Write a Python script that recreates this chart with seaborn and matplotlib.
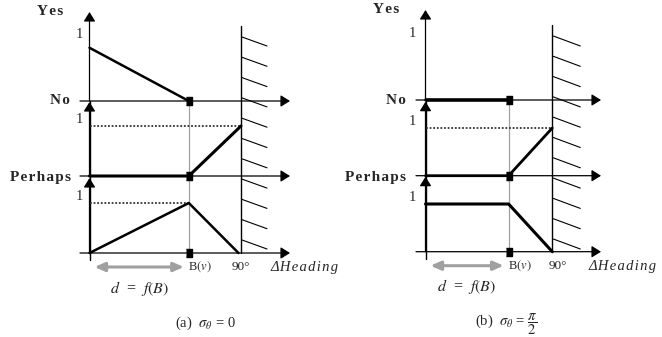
import numpy as np
import pandas as pd
import seaborn as sns
import matplotlib.pyplot as plt

sns.set_theme(style='white')
plt.rcParams['font.family'] = ['Liberation Serif', 'DejaVu Serif']
plt.rcParams['mathtext.fontset'] = 'stix'

# heading values in degrees
b_heading = 59
wall_heading = 90

# panel (a): sigma_theta = 0, membership curves (top, middle, bottom graph)
a_top_x = [0, b_heading]
a_top_y = [0.88, 0]
a_mid_x = [0, b_heading, 90]
a_mid_y = [0, 0, 1]
a_bot_x = [0, b_heading, 88.5]
a_bot_y = [0, 1, 0]

# panel (b): sigma_theta = pi/2
b_top_x = [0, b_heading]
b_top_y = [0, 0]
b_mid_x = [0, b_heading, 90]
b_mid_y = [0, 0, 1]
b_bot_x = [0, b_heading, 90]
b_bot_y = [1, 1, 0]

axis_labels = ['Yes', 'No', 'Perhaps']
captions = [r'(a)  $\sigma_\theta$ = 0', r'(b)  $\sigma_\theta$ = $\dfrac{\pi}{2}$']

# pixel layout of each panel (origin = y-axis / bottom baseline)
layouts = [
    dict(x0=0, x1=330, ox=89.5, oy=253, ppd=151.5 / 90, ppu=50, top_ppu=60.5,
         base_px=[152, 77, 0], tip_px=[89, 74, 75], axis_end=200.5,
         label_dx=[-26.5, -19.5, -18.5], one_dx=-6.5, hatch_len=26, hatch_drop=9,
         heading_dx=29, deg_dx=0, caption_dx=115.5, caption_dy=-70,
         curves=[(a_top_x, a_top_y), (a_mid_x, a_mid_y), (a_bot_x, a_bot_y)],
         thick=[1.8, 2.2, 1.8]),
    dict(x0=330, x1=662, ox=425.5, oy=251.7, ppd=126.8 / 90, ppu=47.7, top_ppu=60.5,
         base_px=[151.7, 76, 0], tip_px=[90, 74, 75], axis_end=175.5,
         label_dx=[-26, -20, -19.5], one_dx=-9.5, hatch_len=28, hatch_drop=10,
         heading_dx=36, deg_dx=6, caption_dx=80.5, caption_dy=-73,
         curves=[(b_top_x, b_top_y), (b_mid_x, b_mid_y), (b_bot_x, b_bot_y)],
         thick=[2.6, 2.0, 2.2]),
]

fig = plt.figure(figsize=(6.62, 3.37), dpi=100)
pt = 0.72  # points per pixel at 100 dpi
square = [(-0.31, -0.5), (0.31, -0.5), (0.31, 0.5), (-0.31, 0.5)]

for i, L in enumerate(layouts):
    ax = fig.add_axes([L['x0'] / 662, 0, (L['x1'] - L['x0']) / 662, 1])
    ax.set_xlim((L['x0'] - L['ox']) / L['ppd'], (L['x1'] - L['ox']) / L['ppd'])
    ax.set_ylim((L['oy'] - 337) / L['ppu'], L['oy'] / L['ppu'])
    ax.axis('off')
    dx = lambda p: p / L['ppd']
    dy = lambda p: p / L['ppu']
    arrow = dict(arrowstyle='-|>,head_length=0.4,head_width=0.25', color='black',
                 lw=0.9, mutation_scale=14, shrinkA=0, shrinkB=0)

    bases = [dy(p) for p in L['base_px']]
    top_base = bases[0]

    # grey guide at B and the 90 degree wall with hatching
    ax.plot([b_heading, b_heading], [0, top_base], color='#a0a0a0', lw=0.9, zorder=1)
    wall_top = top_base + dy(75)
    ax.plot([wall_heading, wall_heading], [0, wall_top], color='black', lw=1.0, zorder=2)
    for k in range(11):
        y0 = wall_top - dy(11 + 20.3 * k)
        ax.plot([wall_heading + dx(1), wall_heading + dx(L['hatch_len'])],
                [y0, y0 - dy(L['hatch_drop'])], color='black', lw=0.8, zorder=2)

    # shared y-axis line
    ax.plot([0, 0], [-dy(7), top_base], color='black', lw=1.0, zorder=2)

    for g in range(3):
        base = bases[g]
        scale = (L['top_ppu'] if g == 0 else L['ppu']) / L['ppu']
        # axes with arrows
        ax.annotate('', xy=(dx(L['axis_end']), base), xytext=(-dx(9.5), base), arrowprops=arrow)
        ax.annotate('', xy=(0, base + dy(L['tip_px'][g])), xytext=(0, base), arrowprops=arrow)
        # "1" label
        ax.annotate('1', xy=(0, base + scale), xytext=(L['one_dx'] * pt, 6 * pt),
                    textcoords='offset points', ha='right', va='center', fontsize=10.5)
        # membership curve
        cx, cy = L['curves'][g]
        df = pd.DataFrame({'x': cx, 'y': [base + v * scale for v in cy]})
        # dotted reference at level 1
        if max(cy) == 1 and cy.index(1) > 0:
            ax.plot([0, cx[cy.index(1)]], [base + scale] * 2, color='#333333',
                    lw=1.3, ls=(0, (1, 1)), zorder=2)
        sns.lineplot(data=df, x='x', y='y', ax=ax, color='black', lw=L['thick'][g],
                     estimator=None, sort=False, zorder=4)
        # B marker
        ax.plot([b_heading], [base], marker=square, ms=6, color='black', zorder=5)

    # Yes / No / Perhaps labels
    label_y = [top_base + dy(L['tip_px'][0]), top_base, bases[1]]
    label_off = [0, 0, -2]
    for lab, yv, ldx, lo in zip(axis_labels, label_y, L['label_dx'], label_off):
        ax.annotate('\u200a'.join(lab), xy=(0, yv), xytext=(ldx * pt, lo * pt),
                    textcoords='offset points', ha='right', va='center',
                    fontsize=11, fontweight='bold')

    # bottom annotations
    ax.annotate(r'B$\mathit{(v)}$', xy=(b_heading, 0), xytext=(-1 * pt, -14 * pt),
                textcoords='offset points', ha='left', va='center', fontsize=9)
    ax.annotate('90°', xy=(wall_heading, 0), xytext=(L['deg_dx'] * pt, -14 * pt),
                textcoords='offset points', ha='center', va='center', fontsize=9.5)
    ax.annotate('\u200a'.join('ΔHeading'), xy=(wall_heading, 0), xytext=(L['heading_dx'] * pt, -15 * pt),
                textcoords='offset points', ha='left', va='center', fontsize=10.5, style='italic')
    ax.annotate('', xy=(dx(5), -dy(14)), xytext=(b_heading - dx(5), -dy(14)),
                arrowprops=dict(arrowstyle='<|-|>,head_length=0.5,head_width=0.22', color='#a0a0a0',
                                lw=2.2, mutation_scale=12, shrinkA=0, shrinkB=0))
    ax.annotate(r'$d$  =  $f(B)$', xy=(b_heading / 2, 0), xytext=(0, -35 * pt),
                textcoords='offset points', ha='center', va='center', fontsize=11.5)
    ax.annotate(captions[i], xy=(dx(L['caption_dx']), 0), xytext=(0, L['caption_dy'] * pt),
                textcoords='offset points', ha='center', va='center', fontsize=10.5)

fig.savefig('out.png', dpi=100)
